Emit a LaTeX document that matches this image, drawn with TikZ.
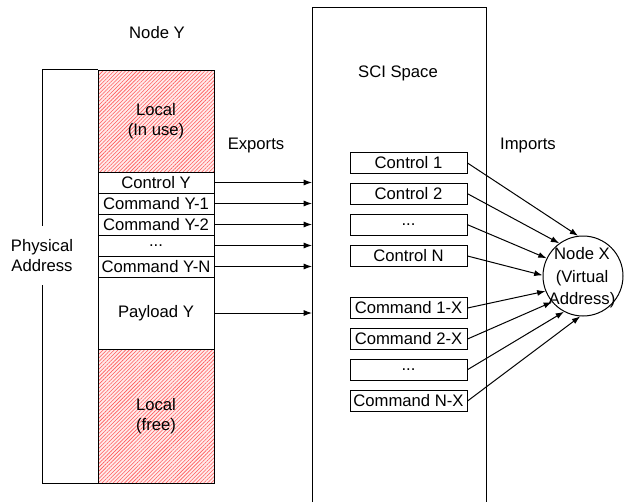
\documentclass[tikz,border=0pt]{standalone}
\usepackage{fontspec}
\setmainfont{Liberation Sans}
\usetikzlibrary{shapes,arrows.meta,patterns.meta}

\begin{document}
\begin{tikzpicture}[x=0.6pt, y=-0.6pt, line width=0.6pt, >={Latex[length=5pt,width=3.6pt]},
	row/.style={draw, inner sep=0pt, minimum width=69.6pt, minimum height=12.6pt},
	slot/.style={draw, inner sep=0pt, minimum width=70.2pt, minimum height=12.6pt},
	hatched/.style={preaction={fill=red!8}, pattern={Lines[angle=45, distance=1.6pt, line width=0.35pt]}, pattern color=red!65, draw=black}]
					\useasboundingbox (0,0) rectangle (626,502);

					% memory of node Y
					\node[] (nodeY) at (157,33) {Node Y};
					\node[row, hatched, minimum height=61.2pt, align=center] (localUse) at (156,121) {Local\\(In use)};
					\node[row] (ctrlY) at (156,182.5) {Control Y};
					\node[row] (cmdY1) at (156,203.5) {Command Y-1};
					\node[row] (cmdY2) at (156,224.5) {Command Y-2};
					\node[row] (dotsY) at (156,245.5) {...};
					\node[row] (cmdYN) at (156,266.5) {Command Y-N};
					\node[row, minimum height=43.2pt] (payY) at (156,313) {Payload Y};
					\node[row, hatched, minimum height=80.4pt, align=center] (localFree) at (156,416) {Local\\(free)};

					\node[align=center, inner ysep=7.5pt] (phys) at (42,255.5) {Physical\\Address};
					\draw (localUse.north west) -| (phys.north);
					\draw (localFree.south west) -| (phys.south);

					% SCI space
					\coordinate (sciL) at (312,7);
					\coordinate (sciR) at (486,7);
					\draw (sciL |- 0,502) -- (sciL) -- (sciR) -- (sciR |- 0,502);
					\node[] (sciLabel) at (398,73) {SCI Space};
					\node[] (exports) at (256,145) {Exports};
					\node[] (imports) at (528,145) {Imports};

					\node[slot] (ctrl1) at (408.5,163) {Control 1};
					\node[slot] (ctrl2) at (408.5,193.7) {Control 2};
					\node[slot] (dotsC) at (408.5,224.7) {...};
					\node[slot] (ctrlN) at (408.5,256) {Control N};
					\node[slot] (cmd1X) at (408.5,308) {Command 1-X};
					\node[slot] (cmd2X) at (408.5,339) {Command 2-X};
					\node[slot] (dotsX) at (408.5,369.7) {...};
					\node[slot] (cmdNX) at (408.5,401) {Command N-X};

					% node X
					\node[circle, draw, minimum size=48pt, inner sep=0pt] (nodeX) at (583,276) {};
					\node[align=center, font={\fontsize{10}{13.5}\selectfont}] (nodeXText) at (582,278) {Node X\\(Virtual\\Address)};

					% exports
					\foreach \r in {ctrlY, cmdY1, cmdY2, dotsY, cmdYN, payY}
						\draw[->] (\r.east) -- (\r.east -| sciL);

					% imports
					\draw[->] (ctrl1.east) -- (nodeX.97);
					\draw[->] (ctrl2.east) -- (nodeX.126);
					\draw[->] (dotsC.east) -- (nodeX.154);
					\draw[->] (ctrlN.east) -- (nodeX.179);
					\draw[->] (cmd1X.east) -- (nodeX.202);
					\draw[->] (cmd2X.east) -- (nodeX.220);
					\draw[->] (dotsX.east) -- (nodeX.242);
					\draw[->] (cmdNX.east) -- (nodeX.266);

				\end{tikzpicture}
\end{document}
